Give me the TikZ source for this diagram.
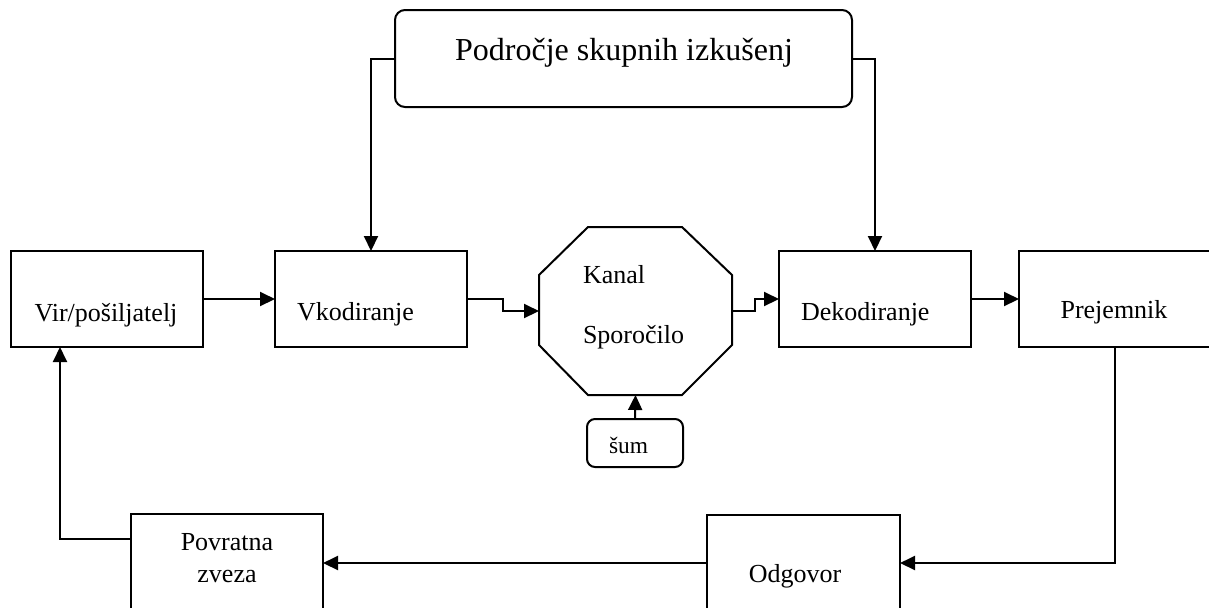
\documentclass[tikz,border=0pt]{standalone}
\usepackage{fontspec}
\setmainfont{Liberation Serif}
\usetikzlibrary{arrows.meta,calc}
\begin{document}
\begin{tikzpicture}[x=0.5pt,y=-0.5pt,
  line width=1pt,
  box/.style={draw,minimum width=96pt,minimum height=48pt,inner sep=0pt,outer sep=0pt},
  txt/.style={inner sep=0pt,font=\fontsize{13pt}{15pt}\selectfont},
  arr/.style={-{Triangle[length=7.5pt,width=7pt]}}]
\path[use as bounding box] (0,0) rectangle (1209,607);
\clip (0,0) rectangle (1209,607);

% boxes
\node[box] (vir) at (107,299) {};
\node[box] (vkod) at (371,299) {};
\node[box] (dekod) at (875,299) {};
\node[box] (prej) at (1115,299) {};
\node[box,minimum width=96.5pt] (odg) at (803.5,563) {};
\node[box] (pov) at (227,562) {};
\node[draw,rounded corners=5pt,minimum width=228.5pt,minimum height=48.5pt,inner sep=0pt,outer sep=0pt] (top) at (623.5,58.5) {};
\node[draw,rounded corners=4pt,minimum width=48pt,minimum height=24pt,inner sep=0pt,outer sep=0pt] (sum) at (635,443) {};
\node[minimum width=96.5pt,minimum height=84pt,inner sep=0pt,outer sep=0pt] (oct) at (635.5,311) {};
\draw ($(oct.north west)+(49,0)$) -- ($(oct.north east)+(-50,0)$) -- ($(oct.north east)+(0,48)$)
  -- ($(oct.south east)+(0,-50)$) -- ($(oct.south east)+(-50,0)$) -- ($(oct.south west)+(49,0)$)
  -- ($(oct.south west)+(0,-50)$) -- ($(oct.north west)+(0,48)$) -- cycle;

% texts
\node[txt,anchor=base] (virT) at (106,321) {Vir/pošiljatelj};
\node[txt,anchor=base west] (vkodT) at (296,320) {Vkodiranje};
\node[txt,anchor=base west] (dekT) at (800,320) {Dekodiranje};
\node[txt,anchor=base] (prejT) at (1114,318) {Prejemnik};
\node[txt,anchor=base west] (kanT) at (582,283) {Kanal};
\node[txt,anchor=base west] (sporT) at (582,343) {Sporočilo};
\node[txt,anchor=base,font=\fontsize{11.7pt}{14pt}\selectfont] (sumT) at (628.5,453) {šum};
\node[txt,anchor=base,font=\fontsize{16pt}{19pt}\selectfont] (topT) at (624,60) {Področje skupnih izkušenj};
\node[txt,anchor=base] (povT1) at (227,550) {Povratna};
\node[txt,anchor=base] (povT2) at (227,582) {zveza};
\node[txt,anchor=base] (odgT) at (795,582) {Odgovor};

% connectors
\draw[arr] (vir.east) -- (vkod.west);
\draw[arr] (vkod.east) -- ++(36,0) |- (oct.west);
\draw[arr] (oct.east) -- ++(23,0) |- (dekod.west);
\draw[arr] (dekod.east) -- (prej.west);
\draw[arr] (top.west) -| (vkod.north);
\draw[arr] (top.east) -| (dekod.north);
\draw[arr] (sum.north) -- (oct.south);
\draw[arr] (prej.south) |- (odg.east);
\draw[arr] (odg.west) -- (odg.west -| pov.east);
\coordinate (povL) at ($(pov.north west)+(0,25)$);
\coordinate (virB) at ($(vir.south west)+(49,0)$);
\draw[arr] (povL) -| (virB);
\end{tikzpicture}
\end{document}
